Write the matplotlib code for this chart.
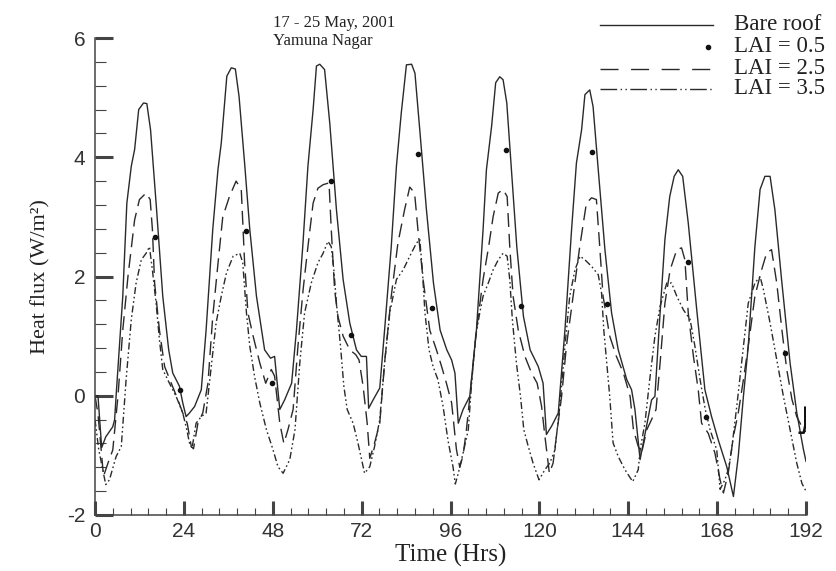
import matplotlib
matplotlib.use('Agg')
import matplotlib.pyplot as plt
from matplotlib.lines import Line2D
from matplotlib.ticker import AutoMinorLocator

plt.rcParams['axes.unicode_minus'] = False

# Time (hours) and heat flux (W/m2), 17-25 May 2001
bare_t = [0, 0.8, 1.8, 2.9, 4.8, 5.3, 5.7, 7.5, 8.6, 9.8, 10.7, 11.8, 13.1, 14.0, 15.0, 16.5, 18.3, 19.9,
          21.0, 22.8, 23.7, 24.6, 25.5, 26.9, 28.7, 30.0, 31.8, 33.2, 34.1, 35.6, 36.8, 37.9, 38.9, 40.4,
          41.8, 43.6, 45.8, 47.4, 48.5, 49.9, 51.2, 53.1, 54.4, 56.1, 57.5, 58.9, 59.8, 60.7, 62.0, 63.4,
          65.2, 67.0, 68.8, 70.6, 71.9, 73.3, 73.9, 75.1, 76.9, 78.2, 80.0, 81.4, 82.7, 84.1, 85.5, 86.4,
          87.7, 89.5, 91.4, 93.2, 95.0, 96.3, 97.2, 98.1, 99.4, 101.2, 103.0, 104.8, 105.7, 107.1, 108.2,
          109.3, 110.2, 111.2, 112.5, 113.9, 115.7, 117.5, 119.7, 121.0, 121.9, 123.3, 125.1, 126.9, 128.7,
          130.0, 131.4, 132.3, 133.6, 134.5, 135.9, 137.7, 139.5, 141.3, 143.6, 144.9, 145.8, 147.2, 148.5,
          150.3, 151.2, 152.6, 153.9, 155.2, 156.4, 157.5, 158.7, 160.2, 162.5, 164.7, 166.5, 168.3, 170.6,
          172.4, 173.7, 175.1, 176.4, 178.2, 179.6, 180.9, 182.3, 183.6, 185.4, 187.7, 189.5, 191.3, 192.0]
bare_q = [0, 0, -0.87, -0.69, -0.52, -0.4, 0.0, 1.67, 3.23, 3.85, 4.13, 4.8, 4.91, 4.9, 4.46, 3.23, 1.67, 0.77,
          0.38, 0.16, -0.12, -0.35, -0.29, -0.18, 0.1, 1.1, 2.79, 3.79, 4.24, 5.36, 5.5, 5.48, 5.02, 3.9,
          2.79, 1.67, 0.77, 0.63, 0.66, -0.23, -0.07, 0.21, 1.1, 2.5, 3.85, 4.8, 5.53, 5.56, 5.47, 4.57,
          3.12, 1.95, 1.22, 0.77, 0.66, 0.66, -0.21, -0.07, 0.13, 1.1, 2.5, 3.85, 4.74, 5.55, 5.56, 5.41,
          4.46, 3.12, 1.89, 1.1, 0.77, 0.6, 0.38, -0.46, -0.23, -0.01, 1.1, 2.79, 3.79, 4.52, 5.25,
          5.35, 5.3, 4.91, 3.74, 2.5, 1.33, 0.77, 0.49, 0.21, -0.65, -0.51, -0.29, 1.1, 2.79,
          3.9, 4.46, 5.05, 5.13, 4.85, 3.79, 2.45, 1.39, 0.77, 0.27, 0.1, -0.23, -1.07, -0.65,
          -0.07, -0.01, 1.39, 2.62, 3.34, 3.68, 3.79, 3.68, 2.9, 1.44, 0.1, -0.35, -0.74, -1.19,
          -1.69, -1.02, -0.01, 0.83, 2.5, 3.46, 3.68, 3.68, 3.12, 1.95, 0.55, -0.28, -0.9, -1.1]

lai05_t = [16.3, 23.0, 40.7, 47.9, 63.8, 69.0, 87.1, 91.1, 111.1, 115.0, 134.1, 138.2, 160.0, 165.0, 186.4]
lai05_q = [2.67, 0.1, 2.77, 0.21, 3.61, 1.02, 4.06, 1.47, 4.12, 1.51, 4.09, 1.54, 2.24, -0.36, 0.72]
lai05_end_t = [190.3, 191.4, 191.8, 191.8]
lai05_end_q = [-0.62, -0.62, -0.5, -0.2]

lai25_t = [0, 0.8, 2.3, 3.5, 4.8, 6.2, 7.5, 8.9, 10.7, 12.0, 13.8, 14.9, 15.5, 16.1, 17.4, 18.8, 20.6, 22.4,
           23.7, 24.9, 26.0, 26.6, 27.8, 29.1, 30.5, 31.8, 33.2, 34.5, 36.3, 38.1, 39.5, 40.4, 41.3, 42.7,
           44.5, 46.1, 47.6, 48.5, 49.9, 51.0, 52.1, 53.5, 54.8, 56.2, 57.5, 58.9, 60.2, 61.6, 63.2, 63.8,
           64.7, 65.6, 67.0, 68.8, 70.4, 71.3, 72.4, 73.5, 74.2, 75.5, 76.9, 78.2, 80.0, 81.8, 83.6, 85.0,
           86.3, 87.2, 88.6, 90.4, 92.2, 93.6, 94.9, 96.3, 97.6, 98.5, 99.4, 100.3, 101.7, 103.0, 104.8,
           106.3, 107.5, 108.9, 110.2, 111.3, 112.0, 112.9, 114.3, 116.1, 117.9, 119.4, 120.6, 121.5, 122.7,
           123.7, 124.6, 126.0, 127.3, 129.1, 130.9, 132.7, 134.1, 135.4, 136.3, 137.2, 139.0, 140.8, 142.7,
           144.5, 145.4, 146.7, 147.6, 149.0, 150.3, 151.5, 152.6, 153.9, 155.3, 157.1, 158.4, 159.3, 160.2,
           161.6, 162.9, 163.8, 165.6, 167.4, 168.8, 169.7, 171.0, 172.4, 173.7, 175.1, 176.4, 178.2, 180.0,
           181.4, 182.7, 184.1, 185.5, 186.8, 188.2, 189.5, 191.3, 192.0]
lai25_q = [0, -0.3, -1.35, -1.13, -0.91, -0.01, 1.1, 2.0, 2.95, 3.29, 3.4, 3.29, 2.79, 1.89, 1.1, 0.49, 0.21, -0.07,
           -0.29, -0.46, -0.85, -0.89, -0.46, -0.29, 0.21, 1.33, 2.21, 3.0, 3.34, 3.6, 3.46, 2.23, 1.39, 1.0,
           0.55, 0.21, 0.44, 0.33, -0.46, -0.8, -0.57, -0.23, 0.83, 1.78, 2.5, 3.23, 3.48, 3.54, 3.57, 2.79,
           1.78, 1.33, 1.0, 0.77, 0.69, 0.6, 0.16, -0.46, -1.05, -0.79, -0.46, 0.55, 1.67, 2.56, 3.12, 3.5,
           3.4, 2.79, 1.95, 1.1, 0.77, 0.49, 0.21, -0.12, -0.9, -1.2, -1.0, -0.57, 0.27, 1.1, 1.95,
           2.5, 3.0, 3.4, 3.46, 3.34, 2.5, 1.67, 1.1, 0.66, 0.38, 0.21, -0.18, -0.68, -1.3,
           -1.13, -0.68, -0.01, 0.83, 1.67, 2.5, 3.23, 3.32, 3.29, 2.5, 1.67, 1.0, 0.66, 0.38,
           -0.01, -0.57, -0.85, -0.96, -0.57, -0.4, -0.23, 0.55, 1.55, 2.11, 2.45, 2.48, 2.28, 1.39,
           0.66, 0.1, -0.46, -0.63, -0.96, -1.41, -1.63, -1.3, -0.68, -0.29, 0.27, 0.83, 1.67, 2.11,
           2.4, 2.45, 1.89, 1.1, 0.44, -0.06, -0.35, -0.57, -0.6]

lai35_t = [0, 1.0, 2.9, 3.9, 5.7, 7.1, 8.4, 9.8, 11.1, 12.5, 13.8, 14.7, 15.5, 16.5, 17.4, 18.3, 20.1, 21.9,
           23.7, 24.8, 25.5, 26.2, 27.3, 28.7, 30.0, 31.4, 32.7, 34.1, 35.5, 37.3, 39.1, 39.9, 40.9, 41.8,
           43.1, 44.5, 46.3, 48.1, 49.4, 50.8, 52.6, 54.0, 55.3, 56.6, 58.4, 60.2, 61.6, 62.9, 63.8, 64.5,
           65.2, 66.3, 67.2, 68.1, 69.7, 71.0, 72.8, 74.2, 75.5, 76.9, 78.2, 79.6, 81.4, 83.2, 85.0, 86.8,
           87.7, 88.4, 89.1, 90.2, 91.3, 92.6, 94.0, 95.3, 96.7, 97.3, 98.1, 99.4, 100.8, 101.7, 102.8,
           103.9, 104.8, 106.2, 107.5, 108.9, 110.2, 111.3, 112.0, 112.7, 113.8, 114.9, 115.8, 117.0, 118.3,
           119.9, 121.5, 122.8, 124.2, 125.5, 126.9, 128.2, 129.6, 131.0, 132.3, 134.1, 135.9, 136.8, 137.4,
           138.2, 139.0, 139.9, 141.3, 143.1, 145.2, 146.7, 147.2, 148.5, 149.8, 151.2, 152.6, 154.4, 155.7,
           157.1, 158.9, 160.7, 162.0, 163.4, 164.8, 166.1, 167.9, 168.8, 170.1, 171.0, 171.9, 173.3, 175.1,
           176.4, 178.2, 179.6, 180.5, 182.3, 184.1, 185.9, 187.7, 189.5, 190.9, 192.0]
lai35_q = [-0.4, -0.9, -1.49, -1.41, -1.02, -0.85, 0.27, 1.28, 1.89, 2.28, 2.39, 2.5, 2.11, 1.55, 0.94, 0.44, 0.21, -0.01,
           -0.29, -0.57, -0.79, -0.88, -0.46, -0.35, -0.29, 0.49, 1.22, 1.67, 2.06, 2.34, 2.39, 2.23, 1.39, 0.83,
           0.32, -0.12, -0.57, -0.91, -1.19, -1.3, -1.07, -0.57, 0.55, 1.39, 1.89, 2.23, 2.39, 2.59, 2.5, 2.11,
           1.55, 0.83, 0.16, -0.23, -0.46, -0.79, -1.3, -1.19, -0.85, -0.4, 0.55, 1.39, 1.95, 2.11, 2.34, 2.56,
           2.62, 2.11, 1.39, 0.77, 0.49, 0.27, -0.18, -0.74, -1.2, -1.48, -1.3, -0.96, -0.57, 0.21, 1.0,
           1.39, 1.67, 1.89, 2.11, 2.28, 2.39, 2.34, 1.95, 1.28, 0.55, -0.01, -0.57, -0.85, -1.13,
           -1.41, -1.24, -1.13, -0.91, -0.18, 0.83, 1.67, 2.11, 2.34, 2.28, 2.17, 2.03, 1.72, 1.1,
           0.55, -0.01, -0.79, -1.02, -1.24, -1.44, -1.24, -0.91, -0.46, 0.27, 1.0, 1.5, 1.89, 1.89,
           1.67, 1.44, 1.28, 0.83, 0.27, -0.23, -0.57, -0.91, -1.57, -1.41, -1.24, -0.91, -0.18, 0.83,
           1.55, 1.89, 2.0, 1.78, 1.22, 0.6, -0.01, -0.57, -1.13, -1.47, -1.6]

x_ticks = [0, 24, 48, 72, 96, 120, 144, 168, 192]
y_ticks = [-2, 0, 2, 4, 6]

serif = ['Liberation Serif', 'DejaVu Serif']
sans = ['Liberation Sans', 'DejaVu Sans']
ink = '#2a2a2a'

fig = plt.figure(figsize=(8.36, 5.71), dpi=100)
ax = fig.add_axes([95 / 836, 56 / 571, 711 / 836, 477 / 571])

ax.plot(bare_t, bare_q, color=ink, lw=1.0, solid_joinstyle='round')
ax.plot(lai25_t, lai25_q, color=ink, lw=1.0, dashes=(10, 5))
ax.plot(lai35_t, lai35_q, color=ink, lw=1.0, dashes=(5, 2, 1.2, 2, 1.2, 2))
ax.plot(lai05_t, lai05_q, ls='none', marker='o', ms=3, color='#111111')
ax.plot(lai05_end_t, lai05_end_q, color='#111111', lw=1.8)

ax.set_xlim(0, 192)
ax.set_ylim(-2, 6)
ax.set_xticks(x_ticks)
ax.set_yticks(y_ticks)
ax.xaxis.set_minor_locator(AutoMinorLocator(5))
ax.yaxis.set_minor_locator(AutoMinorLocator(5))

for side in ['top', 'right']:
    ax.spines[side].set_visible(False)
for side in ['left', 'bottom']:
    ax.spines[side].set_color('#444444')
    ax.spines[side].set_linewidth(1.1)

ax.tick_params(which='both', direction='in', colors='#444444', labelcolor='#333333')
ax.tick_params(axis='y', which='major', length=13, width=2.2, pad=7)
ax.tick_params(axis='y', which='minor', length=8, width=0.8)
ax.tick_params(axis='x', which='major', length=10, width=2.2, pad=5)
ax.tick_params(axis='x', which='minor', length=5, width=0.8)
for lab in ax.get_xticklabels() + ax.get_yticklabels():
    lab.set_family(sans)
    lab.set_fontsize(15)

ax.set_xlabel('Time (Hrs)', family=serif, fontsize=18, color='#222222', labelpad=2)
ax.set_ylabel('Heat flux (W/m²)', family=serif, fontsize=16, color='#222222', labelpad=12)

fig.text(273 / 836, 1 - 32 / 571, '17 - 25 May, 2001\nYamuna Nagar', family=serif, fontsize=12,
         color='#222222', va='center', ha='left', linespacing=1.2)

# legend, drawn by hand so the marker sits at the right end like the original
rows = [25, 47, 69, 89]
labels = ['Bare roof', 'LAI = 0.5', 'LAI = 2.5', 'LAI = 3.5']
styles = [dict(ls='-'), dict(ls='none', marker='o', ms=3),
          dict(dashes=(13, 9)), dict(dashes=(12, 2.5, 1, 2.5, 1, 2.5))]
for r, lab, st in zip(rows, labels, styles):
    yy = 1 - r / 571
    if st.get('marker'):
        fig.add_artist(Line2D([708 / 836], [yy], color='#111111', transform=fig.transFigure, **st))
    else:
        fig.add_artist(Line2D([600 / 836, 713 / 836], [yy, yy], color=ink, lw=1.0,
                              transform=fig.transFigure, **st))
    fig.text(734 / 836, yy, lab, family=serif, fontsize=16.5, color='#222222', va='center', ha='left')

fig.savefig('out.png', dpi=100)
